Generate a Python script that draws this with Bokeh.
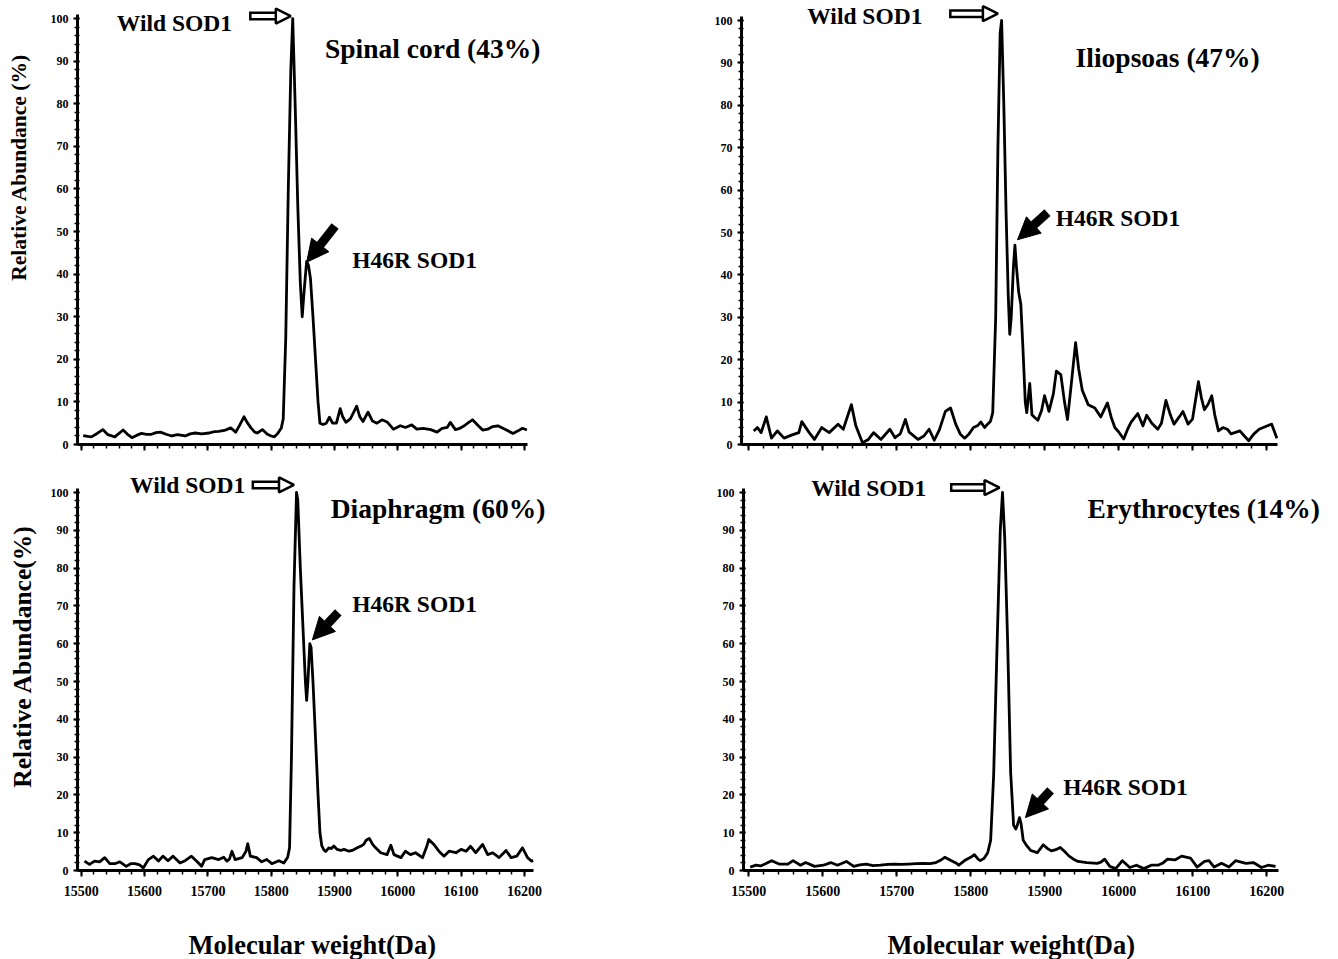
import numpy as np
from bokeh.plotting import figure
from bokeh.models import Label, Arrow, NormalHead, SingleIntervalTicker, Range1d, CustomJSTickFormatter
from bokeh.layouts import row, column
from bokeh.embed import file_html
from bokeh.resources import INLINE

FONT = "Liberation Serif"

# ---------------- data (mass in Da, relative abundance in %) ----------------
spinal_mass = [15503, 15510, 15516, 15525, 15534, 15542, 15553, 15566, 15573, 15580, 15588, 15595,
               15603, 15611, 15618, 15625, 15634, 15643, 15652, 15664, 15672, 15680, 15690, 15702,
               15710, 15717, 15726, 15736, 15744, 15750, 15757, 15762, 15768, 15774, 15778, 15786,
               15794, 15800, 15805, 15810, 15816, 15819, 15823, 15827, 15831, 15834, 15838, 15842,
               15846, 15849, 15852, 15856, 15859, 15862, 15866, 15870, 15874, 15877, 15882, 15887,
               15892, 15897, 15903, 15909, 15913, 15918, 15925, 15930, 15935, 15940, 15945, 15953,
               15960, 15967, 15975, 15983, 15993, 16004, 16012, 16022, 16030, 16040, 16052, 16062,
               16070, 16078, 16083, 16091, 16098, 16105, 16112, 16118, 16126, 16134, 16142, 16150,
               16158, 16166, 16174, 16182, 16190, 16197, 16204]
spinal_abund = [2.1, 1.9, 1.8, 2.6, 3.5, 2.3, 1.8, 3.4, 2.4, 1.6, 2.2, 2.6,
                2.4, 2.4, 2.8, 2.9, 2.4, 2.0, 2.3, 2.0, 2.5, 2.7, 2.5, 2.7,
                3.0, 3.1, 3.3, 3.9, 2.9, 4.5, 6.5, 5.2, 3.9, 2.9, 2.7, 3.5,
                2.4, 2.0, 1.8, 2.5, 3.9, 6.0, 25, 60, 88, 100, 79, 56,
                38, 30, 36, 43, 42, 39, 30, 20, 10, 5.0, 4.7, 5.0,
                6.4, 5.0, 5.0, 8.4, 6.5, 5.2, 6.0, 7.5, 9.0, 6.5, 5.4, 7.6,
                5.5, 5.0, 5.8, 5.3, 3.6, 4.4, 4.0, 4.6, 3.6, 3.8, 3.5, 2.9,
                3.8, 4.0, 5.2, 3.5, 3.8, 4.4, 5.2, 5.8, 4.6, 3.4, 3.6, 4.2,
                4.4, 3.8, 3.2, 2.6, 3.2, 3.8, 3.4]

ilio_mass = [15507, 15512, 15517, 15524, 15531, 15539, 15548, 15558, 15568, 15572, 15582, 15589,
             15599, 15609, 15621, 15628, 15639, 15645, 15654, 15662, 15669, 15679, 15691, 15698,
             15705, 15712, 15717, 15729, 15737, 15744, 15751, 15758, 15766, 15773, 15780, 15786,
             15792, 15798, 15804, 15810, 15814, 15819, 15823, 15827, 15830, 15834, 15837, 15840,
             15842, 15845, 15848, 15851, 15853, 15855, 15858, 15860, 15862, 15865, 15868, 15871,
             15874, 15876, 15880, 15883, 15886, 15891, 15896, 15900, 15906, 15912, 15916, 15922,
             15927, 15931, 15936, 15942, 15946, 15951, 15959, 15968, 15976, 15985, 15990, 15995,
             16000, 16007, 16012, 16017, 16026, 16033, 16038, 16045, 16053, 16058, 16064, 16070,
             16075, 16082, 16087, 16094, 16100, 16108, 16112, 16116, 16121, 16126, 16130, 16135,
             16141, 16147, 16152, 16157, 16164, 16170, 16176, 16183, 16190, 16198, 16207, 16214]
ilio_abund = [3.2, 4.0, 2.8, 6.5, 1.5, 3.2, 1.5, 2.2, 2.8, 5.4, 2.8, 1.2,
              4.0, 2.8, 4.8, 3.6, 9.4, 4.4, 0.4, 1.2, 2.8, 1.2, 3.6, 1.6,
              2.5, 5.9, 2.9, 1.2, 2.0, 3.6, 1.0, 3.5, 7.8, 8.6, 4.8, 2.5,
              1.5, 2.5, 4.0, 4.5, 5.3, 4.0, 4.8, 5.5, 7.5, 30, 70, 97,
              100, 80, 55, 35, 26, 30, 42, 47, 42, 36, 33, 22,
              10, 7.5, 14.4, 7.0, 6.5, 5.7, 8.0, 11.5, 7.8, 12, 17.3, 16.5,
              10, 5.9, 14, 24, 18, 12.8, 9.4, 8.6, 6.5, 9.8, 6.5, 4.0,
              3.0, 1.3, 3.5, 5.3, 7.3, 4.4, 6.9, 5.0, 3.6, 5.0, 10.4, 7.0,
              4.8, 6.5, 7.8, 4.8, 6.0, 14.8, 11, 8.2, 9.5, 11.5, 7.0, 3.2,
              4.0, 3.6, 2.5, 2.8, 3.2, 2.0, 0.9, 2.5, 3.6, 4.2, 4.8, 1.5]

diaph_mass = [15505, 15513, 15521, 15529, 15537, 15545, 15553, 15561, 15571, 15578, 15585, 15592,
              15598, 15606, 15614, 15622, 15629, 15637, 15645, 15656, 15664, 15674, 15682, 15690,
              15695, 15706, 15717, 15725, 15730, 15734, 15738, 15743, 15754, 15760, 15763, 15767,
              15777, 15785, 15793, 15801, 15812, 15820, 15826, 15829, 15832, 15836, 15840, 15842,
              15846, 15850, 15854, 15856, 15858, 15861, 15863, 15866, 15870, 15874, 15877, 15880,
              15883, 15886, 15891, 15895, 15899, 15904, 15910, 15915, 15923, 15928, 15936, 15942,
              15946, 15950, 15955, 15960, 15965, 15973, 15983, 15989, 15994, 16005, 16012, 16020,
              16028, 16039, 16045, 16049, 16057, 16065, 16073, 16081, 16092, 16100, 16108, 16115,
              16123, 16134, 16142, 16150, 16160, 16171, 16179, 16188, 16197, 16205, 16211, 16214]
diaph_abund = [2.5, 1.6, 2.5, 2.3, 3.4, 1.8, 1.8, 2.3, 1.1, 1.8, 1.8, 1.5,
               0.7, 2.9, 3.8, 2.5, 3.8, 2.6, 3.8, 2.0, 2.6, 3.8, 2.5, 1.1,
               2.9, 3.4, 2.9, 3.5, 2.5, 3.0, 5.1, 2.9, 3.4, 5.0, 7.1, 3.8,
               3.4, 2.3, 2.9, 1.8, 2.6, 2.0, 3.5, 6.0, 30, 75, 100, 98,
               80, 65, 50, 45, 50, 60, 59, 50, 35, 20, 10, 6.5,
               5.5, 5.0, 6.0, 5.8, 6.5, 5.6, 5.3, 5.6, 5.1, 5.3, 6.0, 6.5,
               6.9, 8.0, 8.5, 7.0, 6.0, 4.7, 4.2, 6.7, 4.2, 3.4, 5.1, 4.2,
               4.7, 3.4, 6.0, 8.2, 6.9, 5.1, 3.8, 5.1, 4.7, 5.6, 5.1, 6.4,
               4.7, 6.9, 4.2, 4.7, 3.4, 5.3, 3.4, 3.8, 6.0, 3.4, 2.5, 2.6]

eryth_mass = [15502, 15510, 15516, 15522, 15531, 15541, 15553, 15560, 15570, 15577, 15589, 15601,
              15611, 15620, 15632, 15642, 15650, 15659, 15668, 15678, 15688, 15697, 15706, 15716,
              15726, 15736, 15745, 15753, 15760, 15765, 15774, 15780, 15784, 15793, 15800, 15805,
              15810, 15813, 15818, 15823, 15827, 15831, 15836, 15840, 15843, 15846, 15850, 15854,
              15858, 15861, 15863, 15866, 15868, 15871, 15876, 15881, 15886, 15890, 15898, 15904,
              15909, 15915, 15921, 15927, 15933, 15939, 15945, 15957, 15971, 15976, 15981, 15988,
              15996, 16005, 16015, 16024, 16034, 16044, 16053, 16060, 16066, 16076, 16085, 16097,
              16106, 16116, 16122, 16129, 16139, 16149, 16158, 16172, 16182, 16193, 16202, 16212]
eryth_abund = [0.9, 1.4, 1.2, 1.7, 2.6, 1.7, 1.7, 2.6, 1.4, 2.1, 1.1, 1.4,
               2.1, 1.4, 2.4, 1.1, 1.5, 1.7, 1.3, 1.4, 1.6, 1.7, 1.6, 1.7,
               1.8, 1.9, 1.8, 2.1, 2.8, 3.5, 2.6, 2.0, 1.4, 2.8, 3.5, 4.2,
               3.0, 2.6, 3.2, 4.7, 8.0, 25, 62, 90, 100, 88, 60, 26,
               12, 11, 12, 14, 12.5, 8.0, 6.5, 5.3, 5.0, 4.7, 6.8, 5.8,
               5.2, 5.5, 6.1, 5.0, 3.8, 3.0, 2.4, 2.1, 1.9, 2.2, 3.0, 1.1,
               0.5, 2.6, 0.8, 1.4, 0.5, 1.4, 1.4, 2.0, 3.0, 2.8, 3.8, 3.3,
               0.9, 2.4, 2.6, 0.9, 1.9, 0.9, 2.6, 1.9, 2.1, 0.8, 1.4, 1.1]

titles = ["Spinal cord (43%)", "Iliopsoas (47%)", "Diaphragm (60%)", "Erythrocytes (14%)"]
y_axis_titles = ["Relative Abundance (%)", "Relative Abundance(%)"]
x_axis_title = "Molecular weight(Da)"
x_tick_interval = 100
y_tick_interval = 10
y_axis_top = 101


def make_panel(mass, abund, width, height, left, bottom, x_start, x_axis_end, pxx, pyy,
               show_xlabels, title, title_pos, wild_pos, wild_arrow, h46_pos, h46_arrow):
    frame_w = width - left
    frame_h = height - bottom
    p = figure(width=width, height=height,
               x_range=Range1d(x_start, x_start + frame_w / pxx),
               y_range=Range1d(0, frame_h / pyy),
               output_backend="svg", toolbar_location=None,
               min_border_left=left, min_border_right=0,
               min_border_top=0, min_border_bottom=bottom)
    p.xgrid.visible = False
    p.ygrid.visible = False
    p.outline_line_color = None
    p.background_fill_color = "white"
    p.border_fill_color = "white"

    p.line(mass, abund, line_color="black", line_width=2.8, line_join="round")

    for ax in (p.xaxis[0], p.yaxis[0]):
        ax.axis_line_width = 3
        ax.axis_line_color = "black"
        ax.major_tick_line_width = 2
        ax.major_tick_line_color = "black"
        ax.minor_tick_line_width = 1.5
        ax.minor_tick_line_color = "black"
        ax.major_label_text_font = FONT
        ax.major_label_text_font_style = "bold"
        ax.major_label_text_color = "black"
    p.xaxis.bounds = (x_start, x_axis_end)
    p.yaxis.bounds = (0, y_axis_top)
    p.xaxis.ticker = SingleIntervalTicker(interval=x_tick_interval, num_minor_ticks=5)
    p.yaxis.ticker = SingleIntervalTicker(interval=y_tick_interval, num_minor_ticks=5)
    p.xaxis.major_tick_out = 6
    p.xaxis.major_tick_in = 0
    p.xaxis.minor_tick_out = 4
    p.xaxis.minor_tick_in = 0
    p.yaxis.major_tick_out = 4
    p.yaxis.major_tick_in = 2
    p.yaxis.minor_tick_out = 3
    p.yaxis.minor_tick_in = 2
    p.yaxis.major_label_text_font_size = "12px"
    p.yaxis.major_label_standoff = 5
    if show_xlabels:
        p.xaxis.major_label_text_font_size = "14px"
        p.xaxis.major_label_standoff = 9
    else:
        p.xaxis.formatter = CustomJSTickFormatter(code="return ''")
        p.xaxis.major_label_standoff = 0

    def lab(text, x, y, size, align="left"):
        p.add_layout(Label(x=x, y=y, text=text, text_font=FONT, text_font_style="bold",
                           text_font_size=size, text_align=align, text_baseline="middle",
                           text_color="black"))

    lab(title, title_pos[0], title_pos[1], "27.5px")
    lab("Wild SOD1", wild_pos[0], wild_pos[1], "23.5px", "right")
    lab("H46R SOD1", h46_pos[0], h46_pos[1], "23.5px")

    # hollow arrow pointing at the wild-type peak
    tail, tip, yy = wild_arrow
    head_len = 15
    base = tip - head_len / pxx
    p.add_layout(Arrow(end=None, x_start=tail, y_start=yy, x_end=base + 1 / pxx, y_end=yy,
                       line_width=9, line_color="black", line_cap="butt"))
    p.add_layout(Arrow(end=None, x_start=tail + 2.5 / pxx, y_start=yy, x_end=base + 3 / pxx, y_end=yy,
                       line_width=4, line_color="white", line_cap="butt"))
    p.add_layout(Arrow(end=NormalHead(size=head_len, fill_color="white", line_color="black", line_width=2.5),
                       x_start=base, y_start=yy, x_end=tip, y_end=yy, line_alpha=0))
    # solid arrow pointing at the H46R peak
    (x0, y0), (x1, y1) = h46_arrow
    p.add_layout(Arrow(end=NormalHead(size=22, fill_color="black", line_color="black", line_width=1),
                       x_start=x0, y_start=y0, x_end=x1, y_end=y1, line_width=9, line_color="black"))
    return p


def text_strip(width, height, items, angle):
    f = figure(width=width, height=height, x_range=Range1d(0, width), y_range=Range1d(0, height),
               output_backend="svg", toolbar_location=None, min_border=0,
               x_axis_location=None, y_axis_location=None)
    f.grid.visible = False
    f.outline_line_color = None
    for text, x, y, size in items:
        f.add_layout(Label(x=x, y=y, text=text, text_font=FONT, text_font_style="bold",
                           text_font_size=size, text_align="center", text_baseline="middle",
                           text_color="black", angle=angle))
    return f


p1 = make_panel(spinal_mass, spinal_abund, 643, 470, 40, 21, 15494, 16205, 0.633, 4.307, False,
                titles[0], (15885, 93), (15738, 99), (15765, 15831, 100.6), (15928, 43.4),
                ((15901, 51.3), (15856, 42.8)))
p2 = make_panel(ilio_mass, ilio_abund, 658, 470, 61, 26, 15490.5, 16214.8, 0.740, 4.24, False,
                titles[1], (15942, 91.3), (15735, 101), (15771, 15837, 101.6), (15915, 53.5),
                ((15904, 54.7), (15863.5, 48.3)))
p3 = make_panel(diaph_mass, diaph_abund, 643, 435, 40, 35, 15494, 16214, 0.633, 3.78, True,
                titles[2], (15894, 95.8), (15759, 102), (15769, 15836, 102), (15928, 70.6),
                ((15906, 68.3), (15865, 61)))
p4 = make_panel(eryth_mass, eryth_abund, 658, 435, 63, 35, 15493, 16216, 0.740, 3.78, True,
                titles[3], (15958, 95.8), (15740, 101.3), (15772, 15839, 101.3), (15925, 22),
                ((15908, 21.2), (15874, 14)))

ylab_top = text_strip(37, 470, [(y_axis_titles[0], 18, 293.5, "21.5px")], np.pi / 2)
ylab_bot = text_strip(37, 435, [(y_axis_titles[1], 22, 233, "25.5px")], np.pi / 2)
xlab = text_strip(1338, 54, [(x_axis_title, 312, 15, "26.5px"), (x_axis_title, 1011, 15, "26.5px")], 0)

layout = column(row(ylab_top, p1, p2, spacing=0), row(ylab_bot, p3, p4, spacing=0), xlab, spacing=0)
open("out.html", "w").write(file_html(layout, INLINE))
